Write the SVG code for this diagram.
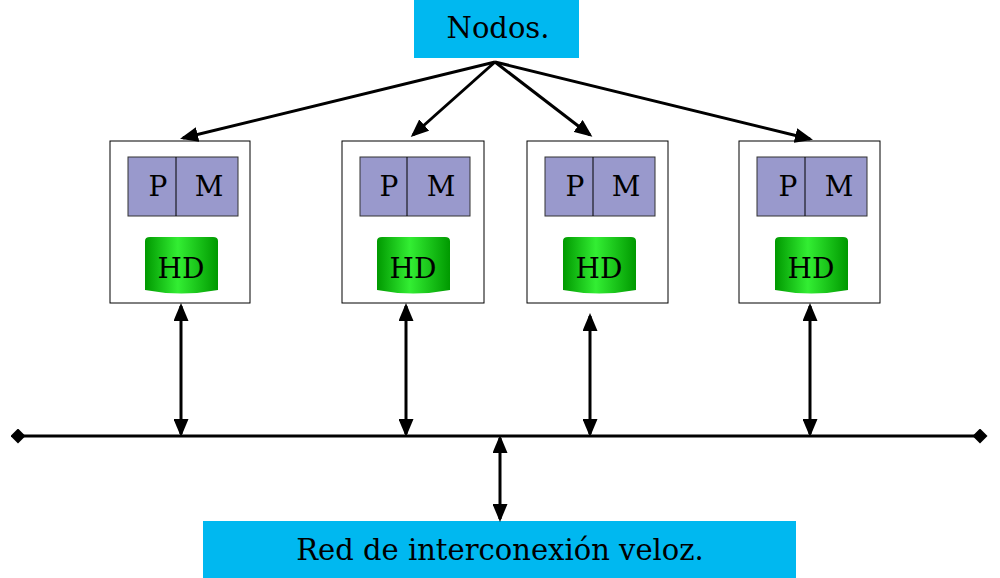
<svg xmlns="http://www.w3.org/2000/svg" width="1000" height="578" viewBox="0 0 1000 578">
<defs>
<style>
text{font-family:"DejaVu Serif","Liberation Serif",serif;fill:#000}
.box{fill:#fff;stroke:#000;stroke-width:1}
.pm{fill:#9999cc;stroke:#333;stroke-width:1}
.c{stroke:#000;stroke-width:3;fill:none}
.lbl{fill:#00b8f0}
</style>
<linearGradient id="g" x1="0" x2="1" y1="0" y2="0">
<stop offset="0" stop-color="#009900"/><stop offset="0.45" stop-color="#33ee33"/><stop offset="1" stop-color="#009900"/>
</linearGradient>
<marker id="a" markerWidth="6" markerHeight="5" refX="5" refY="2.5" orient="auto-start-reverse" markerUnits="strokeWidth"><path d="M0,0 L6,2.5 L0,5 Z" fill="#000"/></marker>
<marker id="d" markerWidth="5" markerHeight="5" refX="2.5" refY="2.5" orient="auto"><path d="M0,2.5 L2.5,0 L5,2.5 L2.5,5 Z" fill="#000"/></marker>
</defs>
<g id="nodos"><rect class="lbl" x="414" y="0" width="165" height="58"/><text x="498" y="38" font-size="29" text-anchor="middle">Nodos.</text></g>
<g id="red"><rect class="lbl" x="203" y="521" width="593" height="57"/><text x="500" y="560" font-size="29" text-anchor="middle">Red de interconexión veloz.</text></g>
<g id="n1"><rect class="box" x="110" y="141" width="140" height="162"/><rect class="pm" x="128" y="157" width="110" height="59"/><line x1="176" y1="157" x2="176" y2="216" stroke="#000"/><text x="158" y="196" font-size="28" text-anchor="middle">P</text><text x="209" y="196" font-size="28" text-anchor="middle">M</text><path d="M145,241 Q145,237 150,237 H213 Q218,237 218,241 V290 Q181,297 145,290 Z" fill="url(#g)"/><text x="181" y="278" font-size="28" text-anchor="middle">HD</text></g>
<g id="n2"><rect class="box" x="342" y="141" width="142" height="162"/><rect class="pm" x="360" y="157" width="110" height="59"/><line x1="407" y1="157" x2="407" y2="216" stroke="#000"/><text x="389" y="196" font-size="28" text-anchor="middle">P</text><text x="441" y="196" font-size="28" text-anchor="middle">M</text><path d="M377,241 Q377,237 382,237 H445 Q450,237 450,241 V290 Q413,297 377,290 Z" fill="url(#g)"/><text x="413" y="278" font-size="28" text-anchor="middle">HD</text></g>
<g id="n3"><rect class="box" x="527" y="141" width="141" height="162"/><rect class="pm" x="545" y="157" width="110" height="59"/><line x1="593" y1="157" x2="593" y2="216" stroke="#000"/><text x="575" y="196" font-size="28" text-anchor="middle">P</text><text x="626" y="196" font-size="28" text-anchor="middle">M</text><path d="M563,241 Q563,237 568,237 H631 Q636,237 636,241 V290 Q599,297 563,290 Z" fill="url(#g)"/><text x="599" y="278" font-size="28" text-anchor="middle">HD</text></g>
<g id="n4"><rect class="box" x="739" y="141" width="141" height="162"/><rect class="pm" x="757" y="157" width="110" height="59"/><line x1="805" y1="157" x2="805" y2="216" stroke="#000"/><text x="788" y="196" font-size="28" text-anchor="middle">P</text><text x="839" y="196" font-size="28" text-anchor="middle">M</text><path d="M775,241 Q775,237 780,237 H843 Q848,237 848,241 V290 Q811,297 775,290 Z" fill="url(#g)"/><text x="811" y="278" font-size="28" text-anchor="middle">HD</text></g>
<g id="connectors">
<line class="c" x1="495" y1="62" x2="183" y2="138" marker-end="url(#a)"/>
<line class="c" x1="495" y1="62" x2="413" y2="135" marker-end="url(#a)"/>
<line class="c" x1="495" y1="62" x2="590" y2="135" marker-end="url(#a)"/>
<line class="c" x1="495" y1="62" x2="810" y2="139" marker-end="url(#a)"/>
<line class="c" x1="18" y1="436" x2="980" y2="436" marker-start="url(#d)" marker-end="url(#d)"/>
<line class="c" x1="181" y1="306" x2="181" y2="434" marker-start="url(#a)" marker-end="url(#a)"/>
<line class="c" x1="406" y1="306" x2="406" y2="434" marker-start="url(#a)" marker-end="url(#a)"/>
<line class="c" x1="590" y1="316" x2="590" y2="434" marker-start="url(#a)" marker-end="url(#a)"/>
<line class="c" x1="810" y1="306" x2="810" y2="434" marker-start="url(#a)" marker-end="url(#a)"/>
<line class="c" x1="500" y1="438" x2="500" y2="519" marker-start="url(#a)" marker-end="url(#a)"/>
</g>
</svg>
